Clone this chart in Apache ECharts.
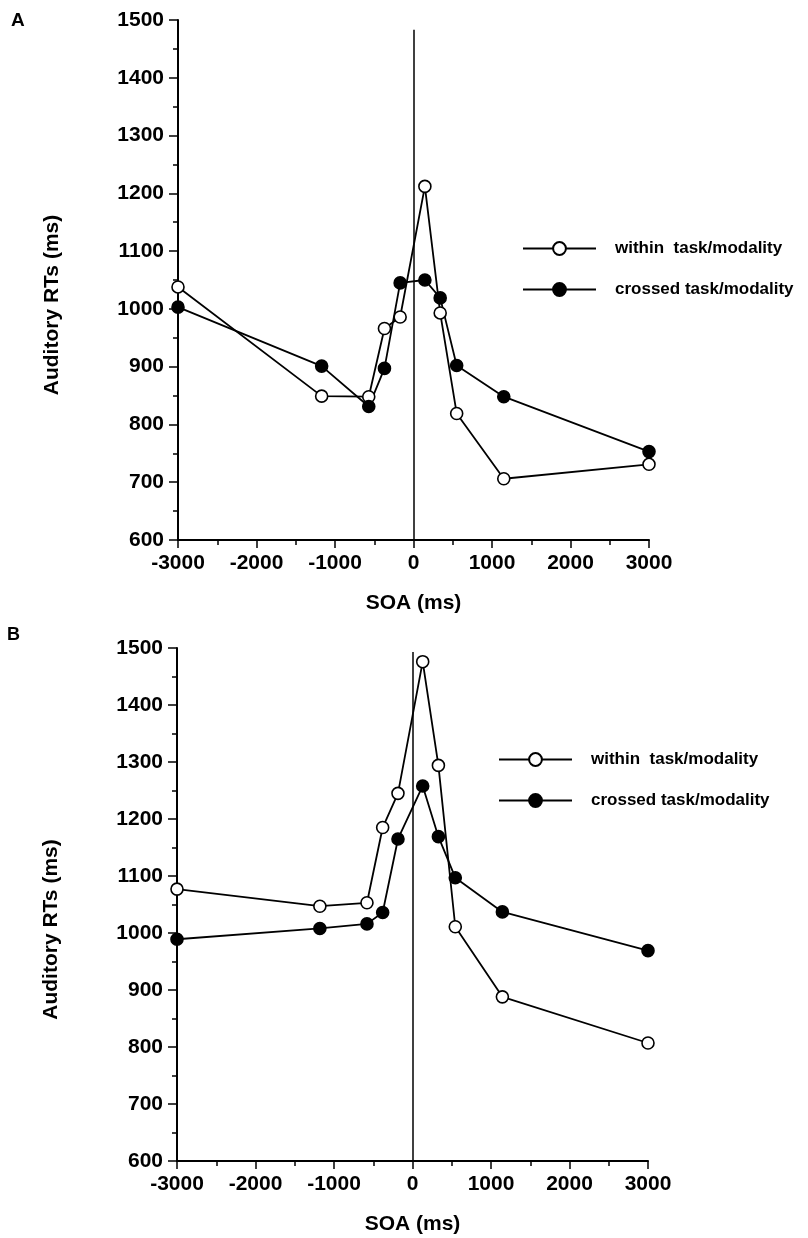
<!DOCTYPE html>
<html>
<head>
<meta charset="utf-8">
<script src="https://cdn.jsdelivr.net/npm/echarts@6/dist/echarts.min.js"></script>
<style>
html,body{margin:0;padding:0;background:#fff;}
#chart{width:808px;height:1238px;}
</style>
</head>
<body>
<div id="chart"></div>
<script>
// ---- data ----
var seriesNames = ['within  task/modality', 'crossed task/modality'];
var soaA = [-3000, -1170, -570, -370, -170, 145, 340, 550, 1150, 3000];
var withinA = [1038, 849, 848, 966, 986, 1212, 993, 819, 706, 731];
var crossedA = [1003, 901, 831, 897, 1045, 1050, 1019, 902, 848, 753];
var soaB = [-3000, -1180, -580, -380, -185, 130, 330, 545, 1145, 3000];
var withinB = [1077, 1047, 1053, 1185, 1245, 1476, 1294, 1011, 888, 807];
var crossedB = [989, 1008, 1016, 1036, 1165, 1258, 1169, 1097, 1037, 969];
var zeroLineA = [600, 1483];
var zeroLineB = [600, 1493];
var panelLabels = ['A', 'B'];
var xTitle = 'SOA (ms)';
var yTitle = 'Auditory RTs (ms)';

function pairs(xs, ys) { return xs.map(function (x, i) { return [x, ys[i]]; }); }
function plain(v) { return String(v); }

var FONT = '"Liberation Sans", Arial, Helvetica, sans-serif';
var chart = echarts.init(document.getElementById('chart'), null, {renderer: 'canvas'});

function xAxisCfg(gi) {
  return {
    type: 'value', gridIndex: gi, min: -3000, max: 3000, interval: 1000,
    name: xTitle, nameLocation: 'middle', nameGap: 53,
    nameTextStyle: {color: '#000', fontFamily: FONT, fontWeight: 'bold', fontSize: 21},
    axisLine: {show: true, onZero: false, lineStyle: {color: '#000', width: 2}},
    axisTick: {show: true, inside: false, length: 8, lineStyle: {color: '#000', width: 1.5}},
    minorTick: {show: true, splitNumber: 2, length: 5, lineStyle: {color: '#000', width: 1.5}},
    axisLabel: {color: '#000', fontFamily: FONT, fontWeight: 'bold', fontSize: 21, margin: 13, formatter: plain},
    splitLine: {show: false}
  };
}
function yAxisCfg(gi) {
  return {
    type: 'value', gridIndex: gi, min: 600, max: 1500, interval: 100,
    name: yTitle, nameLocation: 'middle', nameGap: 115, nameRotate: 90,
    nameTextStyle: {color: '#000', fontFamily: FONT, fontWeight: 'bold', fontSize: 21, padding: [0, 50, 0, 0]},
    axisLine: {show: true, onZero: false, lineStyle: {color: '#000', width: 2}},
    axisTick: {show: true, inside: false, length: 9, lineStyle: {color: '#000', width: 1.5}},
    minorTick: {show: true, splitNumber: 2, length: 5, lineStyle: {color: '#000', width: 1.5}},
    axisLabel: {color: '#000', fontFamily: FONT, fontWeight: 'bold', fontSize: 21, margin: 14, formatter: plain},
    splitLine: {show: false}
  };
}
function lineSeries(name, gi, data, filled, zeroLine) {
  var s = {
    name: name, type: 'line', xAxisIndex: gi, yAxisIndex: gi,
    data: data, symbol: 'circle', symbolSize: 12, showSymbol: true,
    lineStyle: {color: '#000', width: 1.8},
    itemStyle: {color: filled ? '#000' : '#fff', borderColor: '#000', borderWidth: 1.6},
    emphasis: {disabled: true}, animation: false
  };
  if (zeroLine) {
    s.markLine = {
      silent: true, symbol: ['none', 'none'], animation: false,
      label: {show: false},
      lineStyle: {color: '#000', width: 1.5, type: 'solid'},
      data: [[{coord: [0, zeroLine[0]]}, {coord: [0, zeroLine[1]]}]]
    };
  }
  return s;
}
function legendCfg(left, top) {
  return {
    orient: 'vertical', left: left, top: top,
    itemWidth: 73, itemHeight: 16, itemGap: 24,
    data: seriesNames,
    textStyle: {color: '#000', fontFamily: FONT, fontWeight: 'bold', fontSize: 17, lineHeight: 16, padding: [0, 0, 0, 14]},
    selectedMode: false
  };
}

var option = {
  backgroundColor: '#fff',
  animation: false,
  title: [
    {text: panelLabels[0], left: 6, top: 6, textStyle: {color: '#000', fontFamily: FONT, fontWeight: 'bold', fontSize: 19}},
    {text: panelLabels[1], left: 2, top: 621, textStyle: {color: '#000', fontFamily: FONT, fontWeight: 'bold', fontSize: 18}}
  ],
  legend: [legendCfg(517, 235), legendCfg(493, 746)],
  grid: [
    {left: 178, top: 20, width: 471, height: 520},
    {left: 177, top: 648, width: 471, height: 513}
  ],
  xAxis: [xAxisCfg(0), xAxisCfg(1)],
  yAxis: [yAxisCfg(0), yAxisCfg(1)],
  series: [
    lineSeries(seriesNames[0], 0, pairs(soaA, withinA), false, zeroLineA),
    lineSeries(seriesNames[1], 0, pairs(soaA, crossedA), true, null),
    lineSeries(seriesNames[0], 1, pairs(soaB, withinB), false, zeroLineB),
    lineSeries(seriesNames[1], 1, pairs(soaB, crossedB), true, null)
  ]
};
chart.setOption(option);
</script>
</body>
</html>
